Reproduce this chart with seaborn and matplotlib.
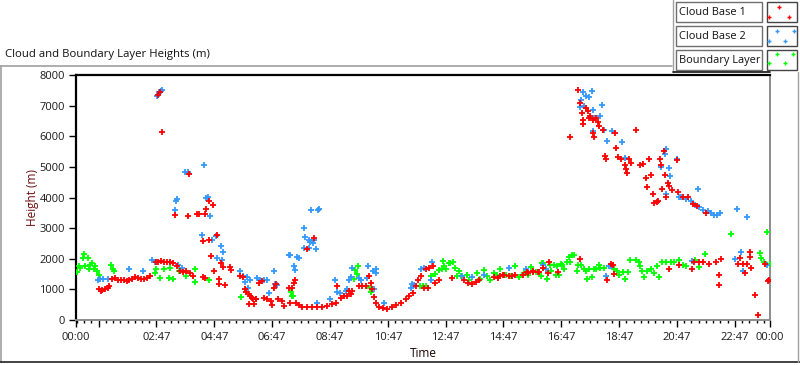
import numpy as np
import pandas as pd
import matplotlib
matplotlib.use("Agg")
import matplotlib.pyplot as plt
from matplotlib.lines import Line2D
from matplotlib.patches import Rectangle
from matplotlib.ticker import FixedLocator
import seaborn as sns

# ---------------- data (time in hours, height in m) ----------------
cb1_time = [0.80, 0.85, 0.90, 1.00, 1.10, 1.15, 1.25, 1.35, 1.45, 1.55, 1.65, 1.75, 1.85, 1.95,
            2.05, 2.15, 2.25, 2.35, 2.45, 2.55, 2.77, 2.85, 2.95, 3.05, 3.15, 3.25, 3.35, 2.85,
            2.90, 2.97, 3.43, 3.50, 3.58, 3.70, 3.80, 3.88, 3.90, 3.95, 4.05, 4.19, 4.24, 4.39,
            4.40, 4.45, 4.46, 4.50, 4.60, 4.60, 4.68, 4.73, 4.77, 4.88, 4.94, 4.96, 5.02, 5.08,
            5.17, 5.31, 5.37, 5.66, 5.77, 5.83, 5.89, 5.98, 6.00, 6.10, 6.12, 6.15, 5.98, 6.21,
            6.23, 6.33, 6.44, 6.50, 6.61, 6.73, 6.79, 6.85, 6.90, 7.00, 7.11, 7.19, 7.37, 7.39,
            7.48, 7.54, 7.57, 7.60, 7.71, 7.83, 7.98, 8.00, 8.17, 8.23, 8.35, 8.52, 8.69, 8.84,
            8.98, 9.04, 9.15, 9.27, 9.38, 9.44, 9.50, 9.56, 9.79, 9.90, 10.02, 10.13, 10.19, 10.25,
            10.29, 10.37, 10.48, 10.60, 10.77, 10.94, 11.06, 11.23, 11.40, 11.52, 11.64, 11.75,
            11.84, 11.92, 12.04, 12.10, 12.16, 12.21, 12.33, 12.42, 12.56, 13.00, 13.43, 13.54,
            13.71, 13.83, 13.94, 14.45, 14.58, 14.68, 14.78, 14.81, 14.98, 15.07, 15.18, 15.45,
            15.58, 15.62, 15.79, 15.81, 15.98, 16.02, 16.14, 16.31, 16.37, 16.66, 17.08, 17.37,
            17.43, 17.43, 17.50, 17.55, 17.55, 17.64, 17.70, 17.75, 17.77, 17.87, 17.89, 17.93,
            17.98, 18.04, 18.10, 18.22, 18.30, 18.34, 18.37, 18.50, 18.56, 18.60, 18.65, 18.68,
            18.74, 18.85, 18.97, 19.02, 19.06, 19.14, 19.20, 19.35, 19.49, 19.60, 19.72, 19.74,
            19.81, 19.87, 19.95, 20.00, 20.10, 20.12, 20.20, 20.23, 20.27, 20.35, 20.37, 20.41,
            20.48, 20.50, 20.52, 20.60, 20.79, 20.81, 20.87, 20.99, 21.16, 21.31, 21.33, 21.37,
            21.47, 21.56, 21.67, 21.79, 21.90, 22.13, 22.22, 22.25, 22.31, 22.89, 22.95, 23.06,
            23.12, 23.20, 23.30, 23.32, 23.35, 23.47, 23.58, 23.82, 23.93, 23.97]
cb1_height = [1000, 950, 980, 1020, 1050, 1100, 1350, 1370, 1320, 1300, 1320, 1260, 1290, 1350,
              1400, 1380, 1350, 1330, 1380, 1430, 1890, 1900, 1920, 1910, 1900, 1880, 1860, 7350,
              7450, 6130, 3440, 1770, 1590, 1560, 1590, 3390, 4760, 1540, 1450, 3450, 3450, 2580,
              1400, 1380, 3470, 3630, 3900, 2610, 2100, 3740, 1590, 2770, 1180, 1340, 1870, 1730,
              1130, 1730, 1640, 1450, 1400, 1020, 910, 840, 780, 730, 680, 520, 520, 680,
              700, 1210, 1270, 730, 700, 620, 480, 1050, 1190, 680, 620, 460, 1050, 540,
              1050, 1210, 1320, 570, 480, 430, 2310, 410, 430, 2670, 430, 430, 460, 520,
              550, 1110, 730, 780, 780, 950, 840, 950, 1110, 1110, 1110, 1430, 1210, 1000,
              760, 570, 410, 380, 350, 410, 480, 570, 680, 780, 890, 1110,
              1320, 1430, 1050, 1650, 1050, 1700, 1770, 1210, 1320, 1370, 1290, 1210,
              1180, 1250, 1320, 1400, 1380, 1450, 1480, 1480, 1450, 1450, 1480, 1480,
              1560, 1540, 1560, 1590, 1560, 1560, 1700, 1540, 1890, 1570, 5990, 7500,
              7100, 1990, 6750, 6540, 6400, 6910, 6830, 6590, 6670, 6540, 6110, 5980,
              6590, 6480, 6350, 6210, 5360, 5250, 1320, 1830, 1810, 1500, 6090, 5620,
              5320, 5250, 5060, 4920, 4800, 5250, 5140, 6210, 5060, 5090, 4650, 4350,
              5250, 4740, 4120, 3820, 3850, 3870, 5250, 5050, 4280, 5520, 4740, 4010,
              4460, 4390, 1670, 4260, 5220, 4190, 1810, 4030, 4030, 1670, 3800, 1910,
              3710, 1890, 1910, 3490, 1830, 1880, 1480, 1130, 1990, 1830, 2020, 1830,
              1540, 1830, 2220, 2050, 1700, 810, 160, 1830, 1270, 1320]

cb2_time = [0.77, 0.82, 0.94, 1.10, 1.85, 2.31, 2.62, 2.74, 2.80, 2.86, 2.93, 2.99, 3.26, 3.43,
            3.46, 3.50, 3.54, 3.66, 3.77, 3.89, 4.35, 4.44, 4.50, 4.56, 4.62, 4.70, 4.85, 4.89,
            5.01, 5.06, 5.10, 5.68, 5.79, 5.85, 5.90, 5.96, 6.02, 6.26, 6.37, 6.49, 6.60, 6.66,
            6.83, 6.89, 6.95, 7.35, 7.41, 7.53, 7.58, 7.64, 7.70, 7.88, 7.90, 7.93, 8.05, 8.05,
            8.10, 8.14, 8.20, 8.24, 8.29, 8.34, 8.36, 8.42, 8.78, 8.95, 9.03, 9.14, 9.32, 9.38,
            9.44, 9.50, 9.53, 9.78, 9.86, 10.05, 10.09, 10.28, 10.30, 10.36, 10.39, 10.64, 11.57,
            11.63, 11.68, 11.92, 12.03, 12.26, 12.32, 13.36, 13.70, 14.10, 14.97, 15.55, 16.16,
            16.24, 17.43, 17.45, 17.55, 17.57, 17.64, 17.75, 17.85, 17.87, 17.89, 17.93, 18.12,
            18.20, 18.27, 18.34, 18.37, 18.43, 18.50, 18.55, 18.87, 18.99, 20.24, 20.36, 20.40,
            20.40, 20.50, 20.55, 20.80, 20.87, 20.93, 21.10, 21.27, 21.30, 21.40, 21.50, 21.55,
            21.70, 21.85, 21.97, 22.05, 22.16, 22.27, 22.80, 22.85, 23.00, 23.05, 23.20, 23.90]
cb2_height = [1320, 1330, 1350, 1350, 1650, 1590, 1970, 1910, 7320, 7430, 7470, 7500, 1910, 3580,
              3900, 3950, 1810, 1700, 4840, 4840, 2770, 5050, 3980, 4010, 3390, 2610, 2740, 2020,
              2420, 1970, 2210, 1590, 1430, 1250, 1400, 1050, 1320, 1380, 1320, 1300, 1320, 890,
              1610, 1190, 1130, 2130, 2130, 1750, 1620, 2070, 2040, 2350, 3020, 2700, 2610, 2350,
              2560, 3600, 2530, 2610, 2310, 540, 3600, 3630, 680, 1320, 910, 890, 950, 1000,
              1320, 1400, 1700, 1380, 1320, 1380, 1750, 1610, 1000, 1540, 1650, 570, 1050,
              1160, 1130, 1670, 1700, 1290, 1880, 1450, 1410, 1480, 1700, 1670, 1810,
              1650, 6970, 7180, 7450, 6990, 7320, 7280, 7470, 6860, 6160, 6590, 6650,
              7020, 6210, 1430, 5840, 1770, 1770, 6180, 5810, 5280, 4980, 5410, 5570,
              4120, 4950, 4690, 5250, 4030, 4030, 3960, 3900, 1930, 3770, 4280, 3690,
              3600, 3560, 3490, 3420, 3420, 3490, 1990, 3630, 2220, 1610, 3350, 1810]

bl_time = [0.03, 0.10, 0.15, 0.23, 0.27, 0.32, 0.41, 0.44, 0.50, 0.55, 0.61, 0.67, 0.72, 0.78,
           1.22, 1.27, 1.32, 2.72, 2.78, 2.92, 3.04, 3.20, 3.26, 3.37, 3.57, 3.81, 4.12, 4.12,
           4.60, 5.71, 7.45, 7.48, 7.50, 9.63, 9.66, 9.72, 9.75, 10.15, 10.20, 11.91, 12.00,
           12.10, 12.26, 12.43, 12.55, 12.67, 12.70, 12.72, 12.78, 12.90, 12.95, 13.04, 13.12,
           13.17, 13.25, 13.30, 13.52, 13.58, 13.87, 13.98, 14.10, 14.22, 14.33, 14.45, 14.57,
           14.68, 14.86, 15.03, 15.17, 15.31, 15.49, 15.63, 15.74, 15.90, 16.07, 16.10, 16.15,
           16.30, 16.40, 16.42, 16.53, 16.60, 16.65, 16.70, 16.76, 16.82, 16.88, 16.97, 17.04,
           17.10, 17.17, 17.22, 17.33, 17.37, 17.45, 17.56, 17.62, 17.67, 17.74, 17.83, 17.90,
           17.98, 18.07, 18.13, 18.27, 18.60, 18.72, 18.78, 18.90, 19.00, 19.08, 19.17, 19.35,
           19.46, 19.52, 19.58, 19.64, 19.76, 19.88, 20.00, 20.10, 20.17, 20.28, 20.40, 20.57,
           20.69, 20.86, 20.98, 21.10, 21.40, 21.56, 21.75, 22.66, 23.67, 23.70, 23.80, 23.90,
           24.00]
bl_height = [1580, 1770, 1700, 2020, 2160, 1750, 2020, 1670, 1800, 1860, 1650, 1750, 1610, 1480,
             1810, 1670, 1610, 1520, 1650, 1380, 1650, 1380, 1700, 1340, 1600, 1450, 1650, 1250,
             1290, 740, 900, 780, 800, 1350, 1620, 1510, 1750, 1050, 900, 1110, 1110,
             1110, 1450, 1510, 1620, 1650, 1940, 1770, 1650, 1860, 1860, 1910, 1700,
             1450, 1590, 1450, 1480, 1320, 1540, 1340, 1620, 1450, 1290, 1520, 1480,
             1670, 1480, 1450, 1750, 1400, 1520, 1480, 1730, 1560, 1430, 1860, 1860,
             1340, 1800, 1590, 1810, 1480, 1770, 1480, 1830, 1810, 1650, 1910, 2050,
             1910, 2130, 2110, 1590, 1810, 1810, 1670, 1590, 1340, 1670, 1410, 1650,
             1650, 1810, 1700, 1700, 1670, 1590, 1480, 1560, 1340, 1570, 1970, 1950,
             1910, 1750, 1590, 1410, 1610, 1650, 1540, 1750, 1410, 1910, 1880, 1880,
             1910, 1970, 1810, 1750, 1970, 1730, 2150, 2800, 2200, 2020, 1910, 2860,
             1830]

series_names = ["Cloud Base 1", "Cloud Base 2", "Boundary Layer"]
series_colors = ["#ff0000", "#3399ff", "#00ff00"]

x_tick_pos = [0, 0.7833, 2.7833, 4.7833, 6.7833, 8.7833, 10.7833, 12.7833, 14.7833,
              16.7833, 18.7833, 20.7833, 22.7833, 24]
x_tick_labels = ["00:00", "", "02:47", "04:47", "06:47", "08:47", "10:47", "12:47", "14:47",
                 "16:47", "18:47", "20:47", "22:47", "00:00"]
y_ticks = [0, 1000, 2000, 3000, 4000, 5000, 6000, 7000, 8000]

# ---------------- styling ----------------
sns.set_style("white")
plt.rcParams["font.family"] = ["Open Sans", "DejaVu Sans"]

W, H = 800, 365
fig = plt.figure(figsize=(8.0, 3.65), dpi=100)
fig.patch.set_facecolor("white")

def fx(x):
    return x / W

def fy(y):
    return 1 - y / H

ax = fig.add_axes([fx(76), fy(320), (770 - 76) / W, (320 - 75) / H])

df = pd.concat([
    pd.DataFrame({"time": bl_time, "height": bl_height, "series": series_names[2]}),
    pd.DataFrame({"time": cb2_time, "height": cb2_height, "series": series_names[1]}),
    pd.DataFrame({"time": cb1_time, "height": cb1_height, "series": series_names[0]}),
], ignore_index=True)

for name, col in [(series_names[2], series_colors[2]),
                  (series_names[1], series_colors[1]),
                  (series_names[0], series_colors[0])]:
    sub = df[df["series"] == name]
    sns.scatterplot(data=sub, x="time", y="height", marker="+", color=col,
                    s=14, linewidth=1.3, ax=ax, legend=False, zorder=3)

ax.set_xlim(0, 24)
ax.set_ylim(0, 8000)
ax.xaxis.set_major_locator(FixedLocator(x_tick_pos))
ax.set_xticklabels(x_tick_labels)
ax.xaxis.set_minor_locator(FixedLocator(list(np.arange(0.0333, 24, 0.25))))
ax.set_yticks(y_ticks)
ax.set_yticklabels([str(v) for v in y_ticks])

ax.tick_params(axis="both", which="major", direction="out", length=5, width=1,
               color="black", labelsize=8, labelcolor="#1a1a1a", pad=3)
ax.tick_params(axis="x", which="minor", direction="out", length=2.5, width=1, color="black")
ax.tick_params(axis="x", which="major", pad=4)
ax.tick_params(bottom=True, left=True, which="both")
ax.tick_params(axis="y", which="minor", left=False)

for side in ["top", "left"]:
    ax.spines[side].set_color("black")
    ax.spines[side].set_linewidth(1.6)
for side in ["right", "bottom"]:
    ax.spines[side].set_color("#8c8c8c")
    ax.spines[side].set_linewidth(1.4)
ax.grid(False)

ax.set_xlabel("Time", fontsize=8.5, color="#1a0000")
ax.xaxis.set_label_coords(0.5, -0.112)
ax.set_ylabel("Height (m)", fontsize=8.5, color="#6a0a0a", va="center")
ax.yaxis.set_label_coords(-0.062, 0.5)

# title
fig.text(fx(5), fy(54), "Cloud and Boundary Layer Heights (m)", fontsize=8.2,
         ha="left", va="center", color="#111111")

# panel frame lines
def fline(x0, y0, x1, y1, color, lw=1.0):
    fig.add_artist(Line2D([fx(x0), fx(x1)], [fy(y0), fy(y1)], color=color, lw=lw,
                          transform=fig.transFigure))

fline(0, 66, 672, 66, "#a0a0a0", 1.2)
fline(0.6, 66, 0.6, 362, "#a0a0a0", 1.2)
fline(0, 362, 800, 362, "#222222", 1.2)
fline(797.5, 72, 797.5, 362, "#a0a0a0", 1.0)
fline(672.5, 0, 672.5, 72, "#a0a0a0", 1.0)
fline(673, 72, 770, 72, "#111111", 1.2)

# legend (drawn like the instrument panel legend)
row_tops = [2, 26, 50]
marker_pos = [
    [(779, 7), (769, 17), (789, 17)],
    [(777, 31), (794, 31), (769, 41), (785, 41)],
    [(777, 54), (793, 54), (769, 63), (785, 63)],
]
for i, top in enumerate(row_tops):
    fig.add_artist(Rectangle((fx(676), fy(top + 20)), 86 / W, 20 / H, transform=fig.transFigure,
                             facecolor="white", edgecolor="#6e6e6e", lw=1.0))
    fig.text(fx(679), fy(top + 10.5), series_names[i], fontsize=7.9, ha="left", va="center",
             color="#111111")
    fig.add_artist(Rectangle((fx(767), fy(top + 20)), 30 / W, 20 / H, transform=fig.transFigure,
                             facecolor="white", edgecolor="#444444", lw=1.0))
    for (mx, my) in marker_pos[i]:
        fig.add_artist(Line2D([fx(mx)], [fy(my)], marker="+", markersize=3.2,
                              markeredgewidth=1.0, color=series_colors[i], linestyle="none",
                              transform=fig.transFigure))

fig.savefig("out.png", dpi=100, facecolor="white")
